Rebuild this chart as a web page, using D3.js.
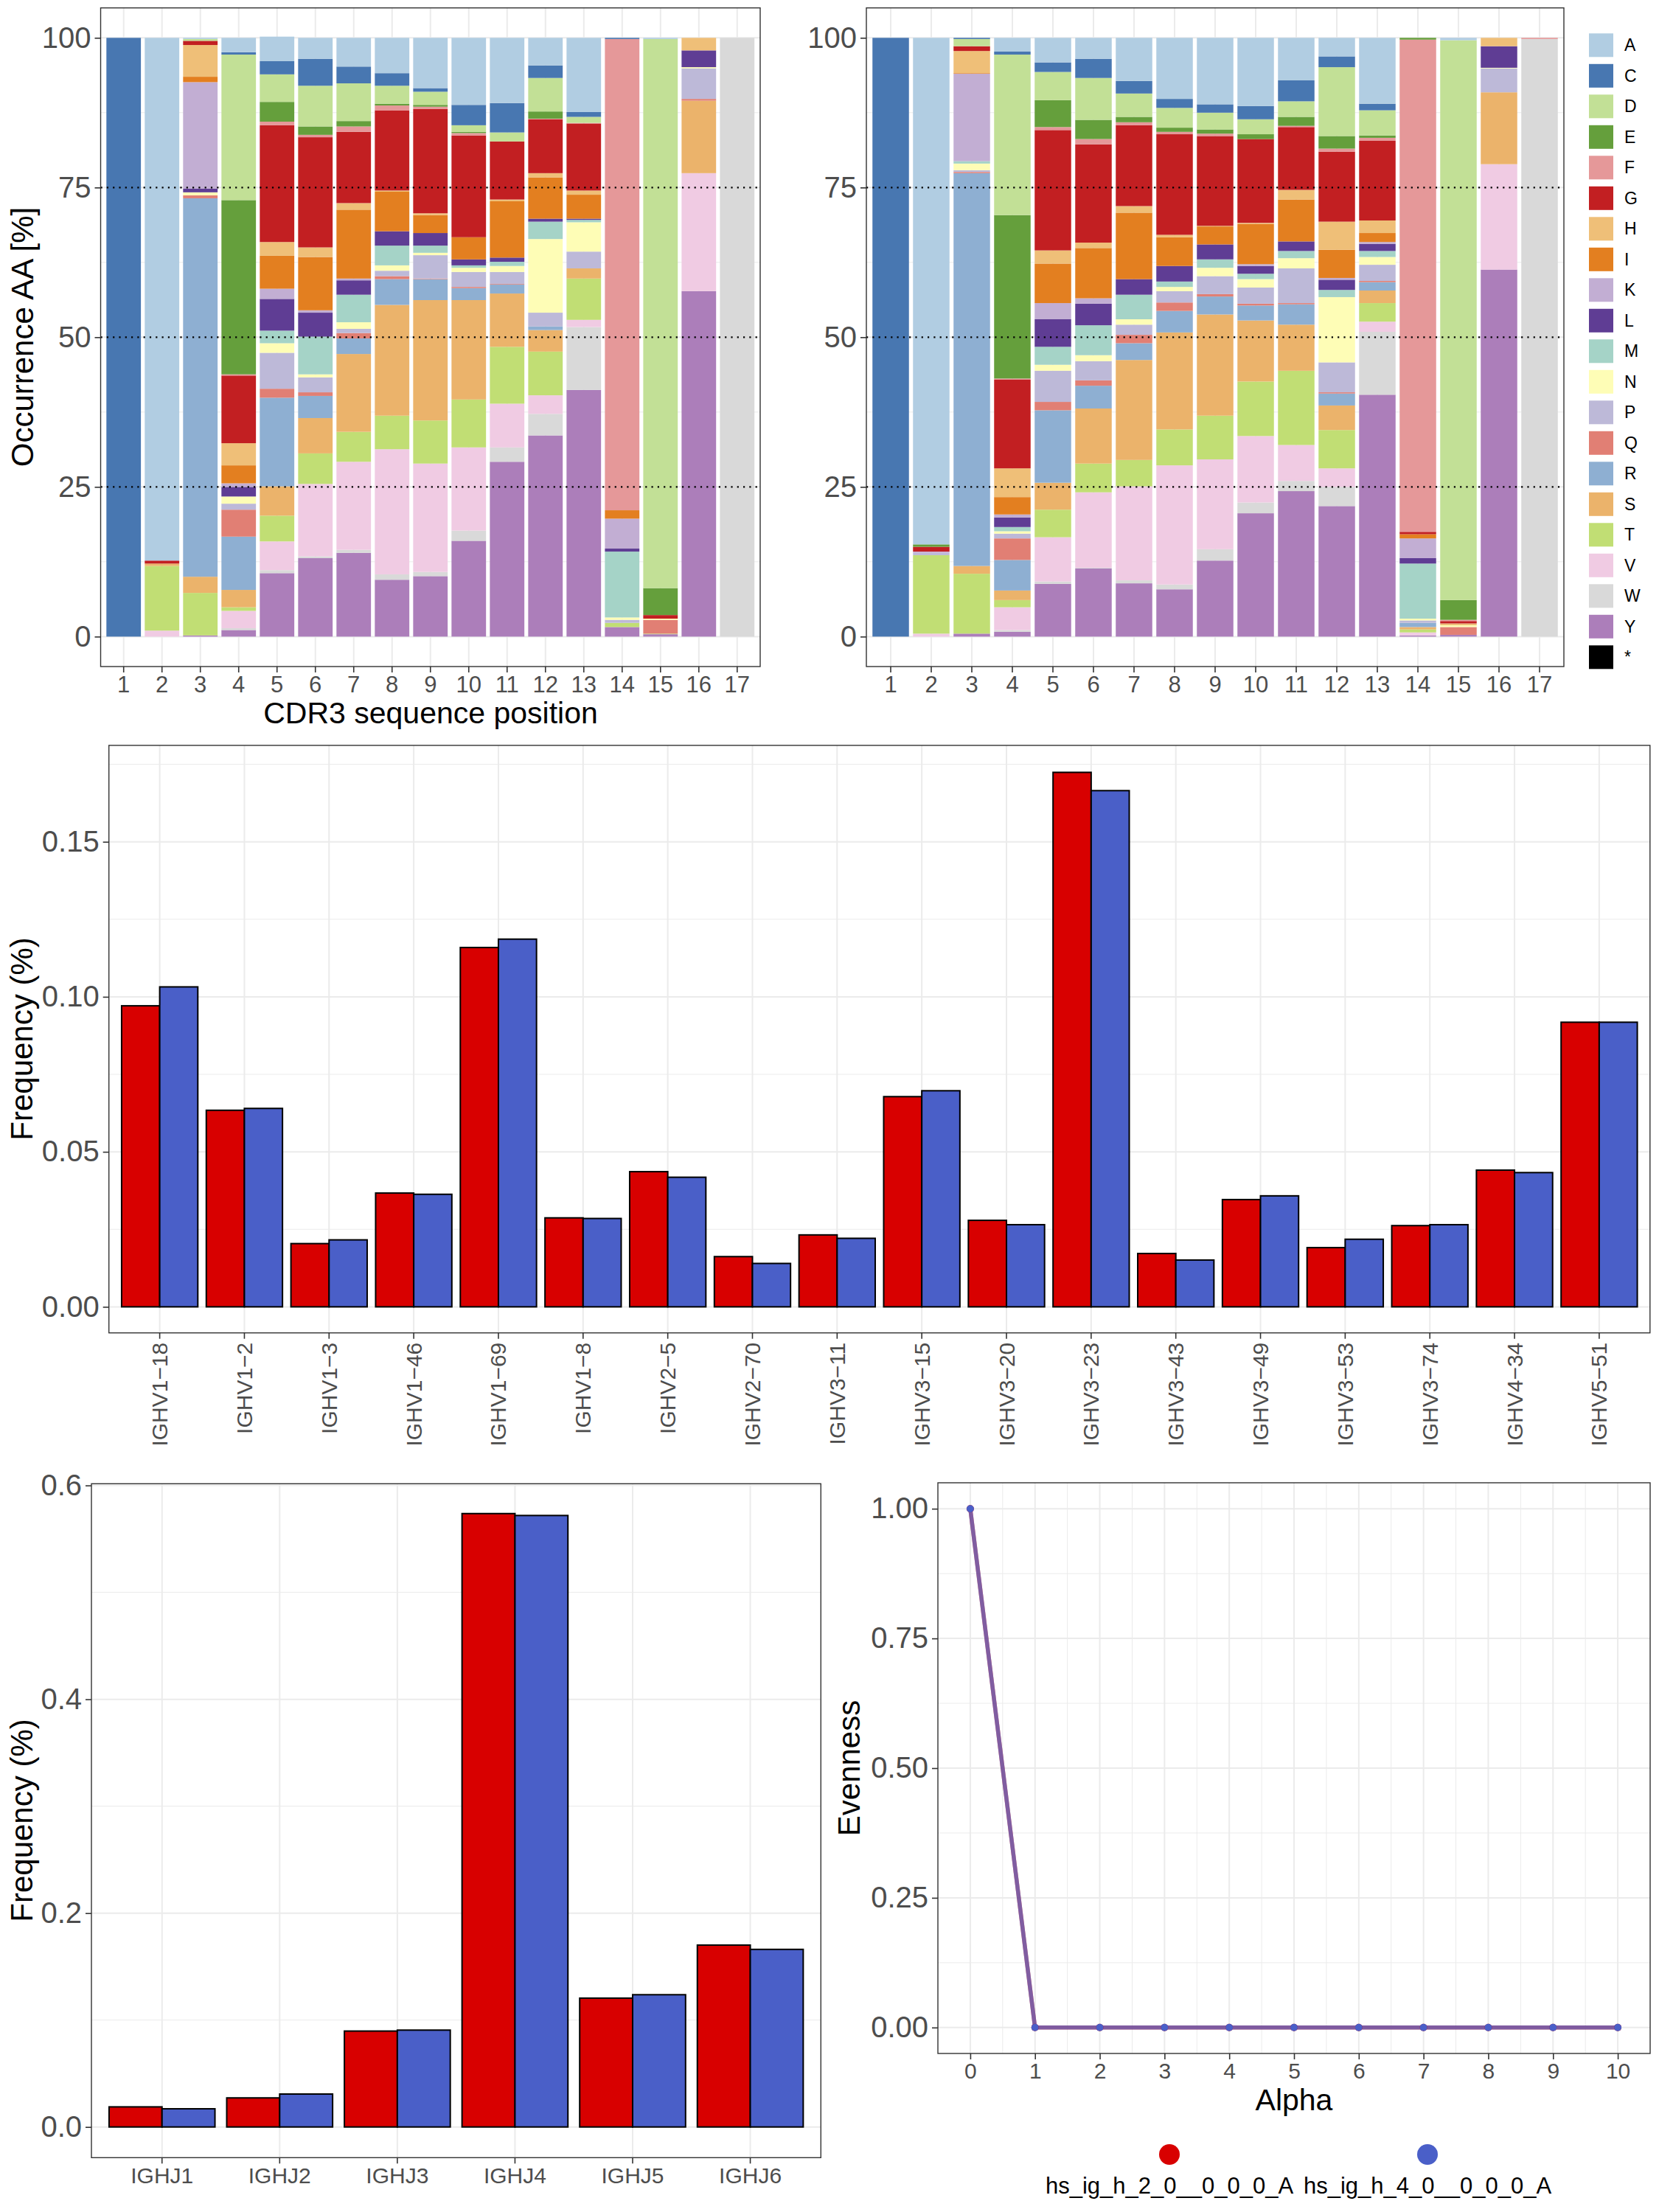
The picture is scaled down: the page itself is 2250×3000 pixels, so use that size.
<!DOCTYPE html>
<html><head><meta charset="utf-8">
<script src="https://cdn.jsdelivr.net/npm/d3@7"></script>
<style>body{margin:0;background:#fff} svg{display:block}</style>
</head><body>
<svg id="chart" width="2250" height="3000"></svg>
<script>
// ---------------- DATA ----------------
const aaLevels = ["A","C","D","E","F","G","H","I","K","L","M","N","P","Q","R","S","T","V","W","Y","*"];
const aaColors = ["#b1cde2","#4877b1","#c2e096","#659f3c","#e59899","#c21f22","#efbf78","#e37f20","#c2aed3","#5f3d94",
                  "#a5d3c7","#fefdb6","#bdb9d8","#e17f74","#8eafd2","#ebb36b","#c1de74","#f0cbe3","#d9d9d9","#ac7eba","#000000"];
const cdr3Positions = ["1","2","3","4","5","6","7","8","9","10","11","12","13","14","15","16","17"];
const occurrenceTicks = [0,25,50,75,100];

// occurrence (%) of each amino acid at each CDR3 position, sample 1 (left panel)
const occurrenceSample1 = [
  {C:100},
  {A:87.3,G:0.5,S:0.4,T:10.8,V:1.0},
  {A:0.2,D:0.3,G:0.7,H:5.3,I:0.9,K:17.8,L:0.6,N:0.5,Q:0.5,R:63.2,S:2.7,T:7.1,Y:0.2},
  {A:2.4,C:0.4,D:24.3,E:29.1,F:0.2,G:11.3,H:3.7,I:3.0,K:0.6,L:1.6,N:1.2,P:1.0,Q:4.5,R:8.9,S:2.9,T:0.6,V:2.9,W:0.3,Y:1.1},
  {A:4.1,C:2.2,D:4.6,E:3.3,F:0.6,G:19.5,H:2.3,I:5.5,K:1.7,L:5.3,M:2.1,N:1.6,P:6.0,Q:1.5,R:14.8,S:4.9,T:4.3,V:4.8,W:0.5,Y:10.6},
  {A:3.5,C:4.5,D:6.8,E:1.4,F:0.4,G:18.4,H:1.6,I:8.9,K:0.4,L:4.0,M:6.3,N:0.5,P:2.5,Q:0.6,R:3.7,S:5.9,T:5.1,V:12.1,W:0.3,Y:13.1},
  {A:4.8,C:2.8,D:6.3,E:0.9,F:0.9,G:11.9,H:1.1,I:11.5,K:0.3,L:2.4,M:4.6,N:1.1,P:0.7,Q:0.9,R:2.6,S:13.0,T:5.0,V:14.7,W:0.5,Y:14.0},
  {A:5.9,C:2.1,D:3.0,E:0.3,F:0.8,G:13.4,H:0.2,I:6.6,L:2.4,M:3.3,N:0.9,P:0.9,Q:0.5,R:4.3,S:18.5,T:5.6,V:20.9,W:0.9,Y:9.5},
  {A:8.4,C:0.6,D:2.2,E:0.3,F:0.4,G:17.4,H:0.3,I:3.0,L:2.1,M:1.2,N:0.4,P:3.9,Q:0.1,R:3.5,S:20.1,T:7.2,V:18.1,W:0.7,Y:10.1},
  {A:11.2,C:3.4,D:1.1,E:0.2,F:0.4,G:17.0,I:3.7,L:1.0,M:0.4,N:0.7,P:2.5,Q:0.2,R:2.0,S:16.6,T:8.0,V:13.9,W:1.7,Y:16.0},
  {A:10.9,C:4.9,D:1.5,G:9.7,H:0.3,I:9.4,L:0.7,M:0.7,N:1.0,P:2.0,Q:0.1,R:1.5,S:8.9,T:9.5,V:7.3,W:2.4,Y:29.2},
  {A:4.6,C:2.1,D:5.6,E:1.2,F:0.1,G:9.0,H:0.7,I:6.9,L:0.5,M:2.9,N:12.3,P:2.3,R:0.6,S:3.6,T:7.3,V:3.1,W:3.6,Y:33.6},
  {A:12.4,C:0.8,D:1.0,F:0.1,G:11.2,H:0.7,I:4.0,L:0.2,M:0.4,N:4.9,P:2.8,S:1.7,T:6.9,V:1.2,W:10.5,Y:41.2},
  {C:0.2,F:78.7,I:1.4,K:5.0,L:0.5,M:11.0,N:0.4,P:0.5,T:0.7,Y:1.6},
  {A:0.2,D:91.7,E:4.5,G:0.6,N:0.2,Q:2.3,T:0.1,Y:0.4},
  {H:2.1,L:2.8,N:0.2,P:5.1,Q:0.3,S:12.1,V:19.7,Y:57.7},
  {W:100}
];

// occurrence (%) sample 2 (right panel)
const occurrenceSample2 = [
  {C:100},
  {A:84.6,E:0.4,G:0.8,K:0.2,P:0.4,T:13.1,V:0.5},
  {C:0.2,D:1.2,G:0.8,H:3.7,I:0.1,K:14.6,M:0.4,N:1.1,P:0.3,Q:0.2,R:65.6,S:1.3,T:10.0,Y:0.5},
  {A:2.3,C:0.5,D:26.8,E:27.3,F:0.2,G:14.8,H:4.8,I:2.9,K:0.5,L:1.6,M:0.7,N:0.4,P:0.8,Q:3.6,R:5.1,S:1.6,T:1.2,V:3.8,W:0.3,Y:0.8},
  {A:4.1,C:1.6,D:4.7,E:4.5,F:0.5,G:20.1,H:2.2,I:6.6,K:2.7,L:4.6,M:3.0,N:1.0,P:5.2,Q:1.4,R:12.1,S:4.5,T:4.6,V:7.4,W:0.4,Y:8.8},
  {A:3.5,C:3.2,D:7.0,E:3.2,F:0.9,G:16.4,H:0.9,I:8.4,K:0.9,L:3.6,M:5.0,N:1.0,P:3.2,Q:0.9,R:3.8,S:9.2,T:4.8,V:12.6,W:0.1,Y:11.4},
  {A:7.2,C:2.1,D:3.9,E:0.9,F:0.5,G:13.5,H:1.1,I:11.1,L:2.6,M:4.1,N:0.9,P:1.7,Q:1.4,R:2.8,S:16.7,T:4.4,V:15.7,W:0.5,Y:8.9},
  {A:10.2,C:1.5,D:3.3,E:0.7,F:0.4,G:16.8,H:0.4,I:4.8,L:2.6,M:0.9,N:0.7,P:1.9,Q:1.4,R:3.6,S:16.2,T:6.0,V:19.9,W:0.8,Y:7.9},
  {A:11.1,C:1.4,D:2.8,E:0.7,F:0.4,G:15.0,H:0.1,I:3.0,L:2.5,M:1.4,N:1.4,P:3.0,Q:0.4,R:3.0,S:16.9,T:7.3,V:15.0,W:1.9,Y:12.7},
  {A:11.4,C:2.2,D:2.5,E:0.8,G:14.0,H:0.2,I:6.7,K:0.3,L:1.3,M:0.9,N:1.4,P:2.7,Q:0.3,R:2.5,S:10.2,T:9.1,V:11.1,W:1.8,Y:20.6},
  {A:7.1,C:3.5,D:2.6,E:1.5,F:0.2,G:10.5,H:1.6,I:7.0,L:1.6,M:1.2,N:1.7,P:5.8,Q:0.2,R:3.4,S:7.7,T:12.4,V:6.0,W:1.7,Y:24.3},
  {A:3.1,C:1.8,D:11.5,E:2.1,F:0.5,G:11.7,H:4.7,I:4.7,K:0.3,L:1.7,M:1.2,N:10.9,P:5.0,Q:0.2,R:2.0,S:4.1,T:6.4,V:3.1,W:3.2,Y:21.8},
  {A:11.0,C:1.1,D:4.2,E:0.4,F:0.5,G:13.3,H:2.1,I:1.5,K:0.3,L:1.2,M:1.0,N:1.3,P:2.7,Q:0.2,R:1.4,S:2.1,T:3.1,V:1.7,W:10.5,Y:40.4},
  {E:0.3,F:82.2,G:0.4,I:0.7,K:3.3,L:0.9,M:9.2,N:0.3,P:0.4,R:0.7,S:0.4,T:0.5,V:0.5,Y:0.2},
  {A:0.4,D:93.5,E:3.3,F:0.2,G:0.4,H:0.3,N:0.3,Q:1.3,Y:0.3},
  {H:1.4,L:3.6,N:0.1,P:4.0,S:12.0,V:17.6,Y:61.3},
  {F:0.2,W:99.8}
];

const vGenes = ["IGHV1-18","IGHV1-2","IGHV1-3","IGHV1-46","IGHV1-69","IGHV1-8","IGHV2-5","IGHV2-70","IGHV3-11",
                "IGHV3-15","IGHV3-20","IGHV3-23","IGHV3-43","IGHV3-49","IGHV3-53","IGHV3-74","IGHV4-34","IGHV5-51"];
const vFreqSample1 = [0.0971,0.0634,0.0204,0.0367,0.1159,0.0287,0.0436,0.0162,0.0232,0.0678,0.0279,0.1724,0.0172,0.0346,0.0191,0.0262,0.0441,0.0918];
const vFreqSample2 = [0.1032,0.0640,0.0216,0.0363,0.1186,0.0285,0.0418,0.0140,0.0221,0.0697,0.0265,0.1665,0.0151,0.0358,0.0218,0.0265,0.0433,0.0918];
const vTicks = [0,0.05,0.10,0.15];

const jGenes = ["IGHJ1","IGHJ2","IGHJ3","IGHJ4","IGHJ5","IGHJ6"];
const jFreqSample1 = [0.0188,0.0272,0.0897,0.5737,0.1205,0.1701];
const jFreqSample2 = [0.0170,0.0308,0.0906,0.5719,0.1237,0.1661];
const jTicks = [0,0.2,0.4,0.6];

const alphaValues = [0,1,2,3,4,5,6,7,8,9,10];
const evennessSample1 = [1,0,0,0,0,0,0,0,0,0,0];
const evennessSample2 = [1,0,0,0,0,0,0,0,0,0,0];
const evennessTicks = [0,0.25,0.5,0.75,1];

const sampleNames = ["hs_ig_h_2_0__0_0_0_A","hs_ig_h_4_0__0_0_0_A"];
const sampleColors = ["#d80000","#4a5fc8"];

// ---------------- DRAWING ----------------
const FONT = "'Liberation Sans', Arial, Helvetica, sans-serif";
const svg = d3.select("#chart");
svg.append("rect").attr("width",2250).attr("height",3000).attr("fill","#fff");
const GRID = "#ebebeb", BORDER = "#333333", TICKTXT = "#4d4d4d";

function hGrid(g, y, vals, x0, x1, w){
  g.selectAll(null).data(vals).enter().append("line")
    .attr("x1",x0).attr("x2",x1).attr("y1",d=>y(d)).attr("y2",d=>y(d))
    .attr("stroke",GRID).attr("stroke-width",w);
}
function vGrid(g, xs, y0, y1, w){
  g.selectAll(null).data(xs).enter().append("line")
    .attr("y1",y0).attr("y2",y1).attr("x1",d=>d).attr("x2",d=>d)
    .attr("stroke",GRID).attr("stroke-width",w);
}
function border(g,x0,x1,y0,y1){
  g.append("rect").attr("x",x0).attr("y",y0).attr("width",x1-x0).attr("height",y1-y0)
    .attr("fill","none").attr("stroke",BORDER).attr("stroke-width",1.4);
}
function styleAxis(ax, size){
  ax.select(".domain").remove();
  ax.selectAll(".tick line").attr("stroke",BORDER).attr("stroke-width",1.6);
  ax.selectAll(".tick text").attr("fill",TICKTXT).style("font-size",size+"px").style("font-family",FONT);
}
function title(txt, x, y, rot, size){
  const t = svg.append("text").text(txt).attr("font-family",FONT).attr("font-size",size)
    .attr("text-anchor","middle").attr("dominant-baseline","central").attr("fill","#000");
  if(rot) t.attr("transform",`translate(${x},${y}) rotate(-90)`); else t.attr("x",x).attr("y",y);
}

// --- top stacked panels ---
function stackedPanel(data, x0, x1){
  const y0 = 904, y1 = 10.7;
  const g = svg.append("g");
  const x = d3.scaleBand().domain(cdr3Positions).range([x0,x1]).paddingInner(0.1).paddingOuter(0.15);
  const y = d3.scaleLinear().domain([-5,105]).range([y0,y1]);
  hGrid(g, y, [12.5,37.5,62.5,87.5], x0, x1, 1);
  hGrid(g, y, occurrenceTicks, x0, x1, 2);
  vGrid(g, cdr3Positions.map(p=>x(p)+x.bandwidth()/2), y1, y0, 2);
  const bottomUp = aaLevels.slice().reverse();
  data.forEach((row,i)=>{
    let cum = 0;
    bottomUp.forEach(aa=>{
      const v = row[aa] || 0;
      if(v>0){
        g.append("rect").attr("x",x(cdr3Positions[i])).attr("width",x.bandwidth())
          .attr("y",y(cum+v)).attr("height",y(cum)-y(cum+v))
          .attr("fill",aaColors[aaLevels.indexOf(aa)]);
      }
      cum += v;
    });
  });
  g.selectAll(null).data([25,50,75]).enter().append("line")
    .attr("x1",x0).attr("x2",x1).attr("y1",d=>y(d)).attr("y2",d=>y(d))
    .attr("stroke","#000").attr("stroke-width",2.2).attr("stroke-dasharray","2.2 6.1");
  border(g,x0,x1,y1,y0);
  const ay = g.append("g").attr("transform",`translate(${x0},0)`)
    .call(d3.axisLeft(y).tickValues(occurrenceTicks).tickFormat(d3.format("d")).tickSize(8).tickPadding(5));
  styleAxis(ay, 40);
  const ax = g.append("g").attr("transform",`translate(0,${y0})`)
    .call(d3.axisBottom(x).tickSize(8).tickPadding(5));
  styleAxis(ax, 31);
}
stackedPanel(occurrenceSample1, 136.5, 1031);
stackedPanel(occurrenceSample2, 1175, 2121);
title("Occurrence AA [%]", 30, 457, true, 42);
title("CDR3 sequence position", 584, 967, false, 41);

// legend for amino acids
const leg = svg.append("g");
aaLevels.forEach((aa,i)=>{
  const ky = 45.3 + i*41.5;
  leg.append("rect").attr("x",2155).attr("y",ky).attr("width",33).attr("height",32).attr("fill",aaColors[i]);
  leg.append("text").attr("x",2203).attr("y",ky+16).attr("dominant-baseline","central")
    .attr("font-family",FONT).attr("font-size",23).attr("fill","#000").text(aa);
});

// --- grouped bar panels ---
function groupedPanel(cats, s1, s2, ticks, fmt, x0, x1, yTop, yBot, yDom, rotateLabels, xTickSize){
  const g = svg.append("g");
  const x = d3.scaleBand().domain(cats).range([x0,x1]).paddingInner(0.1).paddingOuter(0.15);
  const xs = d3.scaleBand().domain([0,1]).range([0,x.bandwidth()]);
  const y = d3.scaleLinear().domain(yDom).range([yBot,yTop]);
  const minor = [];
  for(let k=0;k<ticks.length;k++){ const m = ticks[k] + (ticks[1]-ticks[0])/2; if(m<yDom[1]) minor.push(m); }
  hGrid(g, y, minor, x0, x1, 1);
  hGrid(g, y, ticks, x0, x1, 2);
  vGrid(g, cats.map(c=>x(c)+x.bandwidth()/2), yTop, yBot, 2);
  [s1,s2].forEach((series,si)=>{
    g.selectAll(null).data(series).enter().append("rect")
      .attr("x",(d,i)=>x(cats[i])+xs(si)).attr("width",xs.bandwidth())
      .attr("y",d=>y(d)).attr("height",d=>y(0)-y(d))
      .attr("fill",sampleColors[si]).attr("stroke","#000").attr("stroke-width",2);
  });
  border(g,x0,x1,yTop,yBot);
  const ay = g.append("g").attr("transform",`translate(${x0},0)`)
    .call(d3.axisLeft(y).tickValues(ticks).tickFormat(d3.format(fmt)).tickSize(8).tickPadding(5));
  styleAxis(ay, 40);
  const ax = g.append("g").attr("transform",`translate(0,${yBot})`)
    .call(d3.axisBottom(x).tickSize(8).tickPadding(5).tickFormat(d=>d.replace("-","\u2212")));
  styleAxis(ax, xTickSize);
  if(rotateLabels){
    ax.selectAll(".tick text").attr("y",0).attr("x",-13).attr("dy","0.35em")
      .attr("transform","rotate(-90)").style("text-anchor","end");
  }
}
groupedPanel(vGenes, vFreqSample1, vFreqSample2, vTicks, ".2f", 147.7, 2237.8, 1010.9, 1807.7, [-0.0084,0.1811], true, 30);
title("Frequency (%)", 29, 1409, true, 42);
groupedPanel(jGenes, jFreqSample1, jFreqSample2, jTicks, ".1f", 124, 1113.3, 2012.3, 2926.3, [-0.0287,0.6016], false, 30);
title("Frequency (%)", 29, 2469, true, 42);

// --- evenness panel ---
(function(){
  const x0=1272, x1=2238, yTop=2011, yBot=2785;
  const g = svg.append("g");
  const x = d3.scaleLinear().domain([-0.5,10.5]).range([x0,x1]);
  const y = d3.scaleLinear().domain([-0.05,1.05]).range([yBot,yTop]);
  hGrid(g, y, [0.125,0.375,0.625,0.875], x0, x1, 1);
  hGrid(g, y, evennessTicks, x0, x1, 2);
  vGrid(g, alphaValues.slice(0,10).map(a=>x(a+0.5)), yTop, yBot, 1);
  vGrid(g, alphaValues.map(a=>x(a)), yTop, yBot, 2);
  const line = d3.line().x(d=>x(d[0])).y(d=>y(d[1]));
  [evennessSample1, evennessSample2].forEach((s,si)=>{
    g.append("path").datum(alphaValues.map((a,i)=>[a,s[i]])).attr("d",line)
      .attr("fill","none").attr("stroke",sampleColors[si]).attr("stroke-width",5.5)
      .attr("stroke-opacity",0.65).attr("stroke-linejoin","round");
  });
  [evennessSample1, evennessSample2].forEach((s,si)=>{
    g.selectAll(null).data(alphaValues).enter().append("circle")
      .attr("cx",a=>x(a)).attr("cy",(a,i)=>y(s[i])).attr("r",5).attr("fill",sampleColors[si]);
  });
  border(g,x0,x1,yTop,yBot);
  const ay = g.append("g").attr("transform",`translate(${x0},0)`)
    .call(d3.axisLeft(y).tickValues(evennessTicks).tickFormat(d3.format(".2f")).tickSize(8).tickPadding(5));
  styleAxis(ay, 40);
  const ax = g.append("g").attr("transform",`translate(0,${yBot})`)
    .call(d3.axisBottom(x).tickValues(alphaValues).tickFormat(d3.format("d")).tickSize(8).tickPadding(5));
  styleAxis(ax, 30);
  title("Evenness", 1151, 2398, true, 42);
  title("Alpha", 1755, 2848, false, 41);
  // legend
  const lx = [1586, 1936];
  sampleNames.forEach((n,i)=>{
    svg.append("circle").attr("cx",lx[i]).attr("cy",2922).attr("r",14).attr("fill",sampleColors[i]);
    svg.append("text").attr("x",lx[i]).attr("y",2964).attr("text-anchor","middle").attr("dominant-baseline","central")
      .attr("font-family",FONT).attr("font-size",31).attr("fill","#000").text(n);
  });
})();
</script>
</body></html>
